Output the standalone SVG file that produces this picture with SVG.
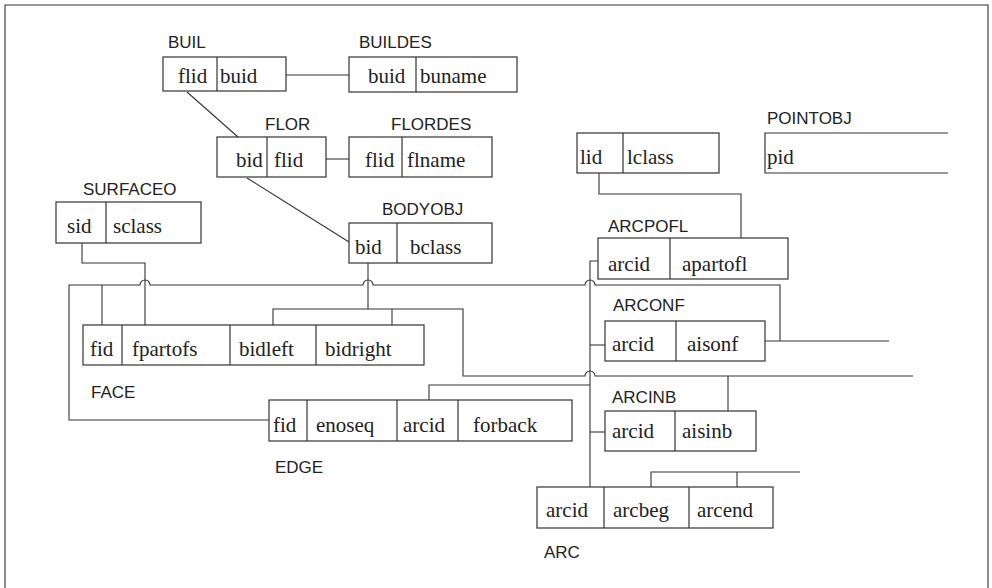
<svg xmlns="http://www.w3.org/2000/svg" width="992" height="588" viewBox="0 0 992 588">
<style>
.bx{fill:none;stroke:#333;stroke-width:1.2}
.ln{fill:none;stroke:#333;stroke-width:1.1}
.f{font-family:"Liberation Serif","Times New Roman",serif;font-size:21px;fill:#222}
.l{font-family:"Liberation Sans",Arial,sans-serif;font-size:17px;fill:#222}
</style>
<rect width="992" height="588" fill="#fff"/>
<path class="ln" d="M5,588 V5 H988 V588"/>

<g id="BUIL">
<text class="l" x="168" y="48">BUIL</text>
<rect class="bx" x="163" y="57" width="123" height="34"/>
<line class="bx" x1="217" y1="57" x2="217" y2="91"/>
<text class="f" x="178" y="83">flid</text><text class="f" x="220" y="83">buid</text>
</g>
<g id="BUILDES">
<text class="l" x="359" y="48">BUILDES</text>
<rect class="bx" x="349" y="57" width="168" height="35"/>
<line class="bx" x1="416" y1="57" x2="416" y2="92"/>
<text class="f" x="368" y="83">buid</text><text class="f" x="420" y="83">buname</text>
</g>
<g id="FLOR">
<text class="l" x="265" y="130">FLOR</text>
<rect class="bx" x="217" y="137" width="109" height="40"/>
<line class="bx" x1="267" y1="137" x2="267" y2="177"/>
<text class="f" x="236" y="167">bid</text><text class="f" x="274" y="167">flid</text>
</g>
<g id="FLORDES">
<text class="l" x="391" y="130">FLORDES</text>
<rect class="bx" x="349" y="137" width="143" height="40"/>
<line class="bx" x1="402" y1="137" x2="402" y2="177"/>
<text class="f" x="365" y="167">flid</text><text class="f" x="407" y="167">flname</text>
</g>
<g id="SURFACEO">
<text class="l" x="83" y="195">SURFACEO</text>
<rect class="bx" x="56" y="202" width="145" height="41"/>
<line class="bx" x1="106" y1="202" x2="106" y2="243"/>
<text class="f" x="67" y="233">sid</text><text class="f" x="113" y="233">sclass</text>
</g>
<g id="BODYOBJ">
<text class="l" x="382" y="215">BODYOBJ</text>
<rect class="bx" x="349" y="223" width="143" height="40"/>
<line class="bx" x1="397" y1="223" x2="397" y2="263"/>
<text class="f" x="355" y="254">bid</text><text class="f" x="410" y="254">bclass</text>
</g>
<g id="LINEOBJ">
<rect class="bx" x="577" y="133" width="142" height="40"/>
<line class="bx" x1="623" y1="133" x2="623" y2="173"/>
<text class="f" x="580" y="164">lid</text><text class="f" x="627" y="164">lclass</text>
</g>
<g id="POINTOBJ">
<text class="l" x="767" y="124">POINTOBJ</text>
<path class="bx" d="M948,133 H765 V173 H948"/>
<text class="f" x="767" y="164">pid</text>
</g>
<g id="ARCPOFL">
<text class="l" x="608" y="232">ARCPOFL</text>
<rect class="bx" x="598" y="238" width="190" height="41"/>
<line class="bx" x1="670" y1="238" x2="670" y2="279"/>
<text class="f" x="608" y="271">arcid</text><text class="f" x="682" y="271">apartofl</text>
</g>
<g id="FACE">
<rect class="bx" x="83" y="325" width="341" height="40"/>
<line class="bx" x1="122" y1="325" x2="122" y2="365"/>
<line class="bx" x1="230" y1="325" x2="230" y2="365"/>
<line class="bx" x1="316" y1="325" x2="316" y2="365"/>
<text class="f" x="90" y="356">fid</text><text class="f" x="132" y="356">fpartofs</text>
<text class="f" x="239" y="356">bidleft</text><text class="f" x="325" y="356">bidright</text>
<text class="l" x="91" y="398">FACE</text>
</g>
<g id="ARCONF">
<text class="l" x="613" y="311">ARCONF</text>
<rect class="bx" x="605" y="321" width="160" height="40"/>
<line class="bx" x1="676" y1="321" x2="676" y2="361"/>
<text class="f" x="612" y="351">arcid</text><text class="f" x="687" y="351">aisonf</text>
</g>
<g id="EDGE">
<rect class="bx" x="269" y="400" width="303" height="41"/>
<line class="bx" x1="307" y1="400" x2="307" y2="441"/>
<line class="bx" x1="397" y1="400" x2="397" y2="441"/>
<line class="bx" x1="458" y1="400" x2="458" y2="441"/>
<text class="f" x="273" y="432">fid</text><text class="f" x="316" y="432">enoseq</text>
<text class="f" x="403" y="432">arcid</text><text class="f" x="473" y="432">forback</text>
<text class="l" x="275" y="473">EDGE</text>
</g>
<g id="ARCINB">
<text class="l" x="612" y="403">ARCINB</text>
<rect class="bx" x="605" y="411" width="151" height="40"/>
<line class="bx" x1="675" y1="411" x2="675" y2="451"/>
<text class="f" x="612" y="438">arcid</text><text class="f" x="682" y="438">aisinb</text>
</g>
<g id="ARC">
<rect class="bx" x="537" y="487" width="236" height="41"/>
<line class="bx" x1="604" y1="487" x2="604" y2="528"/>
<line class="bx" x1="689" y1="487" x2="689" y2="528"/>
<text class="f" x="546" y="517">arcid</text><text class="f" x="613" y="517">arcbeg</text>
<text class="f" x="697" y="517">arcend</text>
<text class="l" x="544" y="558">ARC</text>
</g>

<g id="connectors">
<line class="ln" x1="286" y1="75" x2="349" y2="75"/>
<line class="ln" x1="187" y1="92" x2="238" y2="137"/>
<line class="ln" x1="326" y1="159" x2="349" y2="159"/>
<line class="ln" x1="247" y1="178" x2="349" y2="242"/>
<path class="ln" d="M82,243 V263 H145 V325"/>
<path class="ln" d="M368,263 V309"/>
<path class="ln" d="M273,325 V309 H463 V376 H585 A5,5 0 0 1 595,376 H913"/>
<line class="ln" x1="392" y1="309" x2="392" y2="325"/>
<path class="ln" d="M269,420 H69 V285 H140 A5,5 0 0 1 150,285 H363 A5,5 0 0 1 373,285 H585 A5,5 0 0 1 595,285 H780 V341"/>
<line class="ln" x1="102" y1="285" x2="102" y2="325"/>
<line class="ln" x1="765" y1="341" x2="889" y2="341"/>
<path class="ln" d="M599,173 V194 H741 V238"/>
<path class="ln" d="M598,261 H590 V487"/>
<line class="ln" x1="590" y1="345" x2="605" y2="345"/>
<line class="ln" x1="590" y1="432" x2="605" y2="432"/>
<path class="ln" d="M429,400 V385 H590"/>
<line class="ln" x1="728" y1="376" x2="728" y2="411"/>
<path class="ln" d="M651,487 V472 H800"/>
<line class="ln" x1="737" y1="472" x2="737" y2="487"/>
</g>
</svg>
